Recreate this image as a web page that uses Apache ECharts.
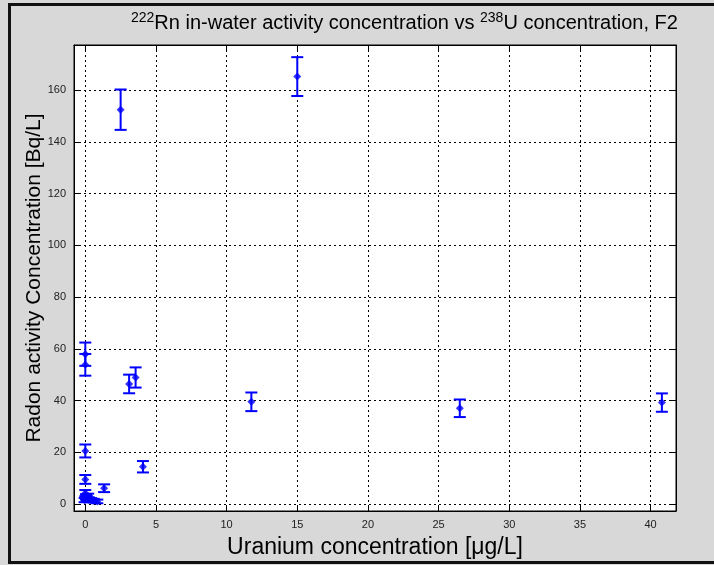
<!DOCTYPE html>
<html>
<head>
<meta charset="utf-8">
<script src="https://cdn.jsdelivr.net/npm/echarts@6/dist/echarts.min.js"></script>
<style>
html,body{margin:0;padding:0;background:#d8d8d8;}
#c{width:714px;height:565px;}
</style>
</head>
<body>
<div id="c"></div>
<script>
// Uranium concentration [µg/L]
var uranium = [0, 0, 3.1, 3.56, 0, 0, 1.33, 4.08, 2.5, 15.0, 11.75, 26.5, 40.8,
               0, 0.2, 0.05, 0.1, 0.25, -0.05, 0.4, 0.6, 0.85];
// Radon activity concentration [Bq/L]
var radon = [57.9, 53.8, 46.4, 48.9, 20.5, 9.5, 6.1, 14.4, 152.4, 165.2, 39.5, 37.0, 39.2,
             4.2, 3.0, 2.8, 2.2, 1.8, 1.5, 1.5, 1.3, 1.0];
// Uncertainty (±) [Bq/L]
var radonErr = [4.5, 4.2, 3.6, 3.9, 2.5, 1.7, 1.5, 2.2, 7.8, 7.5, 3.6, 3.4, 3.55,
                1.2, 1.0, 1.0, 0.9, 0.8, 0.8, 0.8, 0.7, 0.7];

var xTicks = [0, 5, 10, 15, 20, 25, 30, 35, 40];
var yTicks = [0, 20, 40, 60, 80, 100, 120, 140, 160];

var pts = uranium.map(function(u, i){ return [u, radon[i]]; });
var errData = uranium.map(function(u, i){ return [u, radon[i] - radonErr[i], radon[i] + radonErr[i]]; });

var blue = '#0000ff';
var font = '"Liberation Sans", Arial, sans-serif';
var narrow = '"Liberation Sans Narrow", "Liberation Sans", Arial, sans-serif';

var chart = echarts.init(document.getElementById('c'), null, {renderer: 'canvas'});

function baseAxis(extra){
  var a = {
    axisLine: {show: true, onZero: false, lineStyle: {color: '#000', width: 1}},
    axisTick: {show: true, inside: true, length: 5, lineStyle: {color: '#000'}},
    splitLine: {show: false},
    axisLabel: {show: false}
  };
  for (var k in extra) a[k] = extra[k];
  return a;
}

var option = {
  backgroundColor: '#d8d8d8',
  animation: false,
  title: {
    text: '{sup|222}Rn in-water activity concentration vs {sup|238}U concentration, F2',
    left: 126,
    top: 6,
    textStyle: {
      fontFamily: font, fontSize: 20, fontWeight: 'normal', color: '#000',
      rich: {
        sup: {fontFamily: font, fontSize: 14, verticalAlign: 'top', padding: [0, 0, 10, 0], color: '#000'}
      }
    }
  },
  grid: {left: 74, top: 45, width: 602, height: 466, show: true, backgroundColor: '#fff', borderColor: '#000', borderWidth: 1},
  xAxis: [
    baseAxis({
      type: 'value', min: -0.8, max: 41.8, splitNumber: 8,
      axisTick: {show: true, inside: true, length: 5, lineStyle: {color: '#000'}, customValues: xTicks},
      axisLabel: {show: true, customValues: xTicks, fontFamily: narrow, fontSize: 11, color: '#222', margin: 8},
      splitLine: {show: true, lineStyle: {color: '#000', type: [2, 3], width: 1}},
      name: 'Uranium concentration [\u03bcg/L]', nameLocation: 'middle', nameGap: 25,
      nameMoveOverlap: false,
      nameTextStyle: {fontFamily: font, fontSize: 23, color: '#000'}
    }),
    baseAxis({
      type: 'value', min: -0.8, max: 41.8, position: 'top',
      axisTick: {show: true, inside: true, length: 5, lineStyle: {color: '#000'}, customValues: xTicks}
    })
  ],
  yAxis: [
    baseAxis({
      type: 'value', min: -2.7, max: 177.4, splitNumber: 9,
      axisTick: {show: true, inside: true, length: 5, lineStyle: {color: '#000'}, customValues: yTicks},
      axisLabel: {show: true, customValues: yTicks, fontFamily: narrow, fontSize: 11, color: '#222', margin: 8},
      splitLine: {show: true, lineStyle: {color: '#000', type: [2, 3], width: 1}},
      name: 'Radon activity Concentration [Bq/L]', nameLocation: 'middle', nameGap: 29,
      nameMoveOverlap: false,
      nameTextStyle: {fontFamily: font, fontSize: 21, color: '#000'}
    }),
    baseAxis({
      type: 'value', min: -2.7, max: 177.4, position: 'right',
      axisTick: {show: true, inside: true, length: 5, lineStyle: {color: '#000'}, customValues: yTicks}
    })
  ],
  graphic: [{
    type: 'rect', silent: true, z: 100,
    shape: {x: 9.5, y: 4.5, width: 760, height: 558},
    style: {fill: 'none', stroke: '#111', lineWidth: 3}
  }],
  series: [
    {
      type: 'custom',
      xAxisIndex: 0, yAxisIndex: 0,
      data: errData,
      encode: {x: 0, y: [1, 2]},
      renderItem: function(params, api){
        var lo = api.coord([api.value(0), api.value(1)]);
        var hi = api.coord([api.value(0), api.value(2)]);
        var hw = 6;
        var st = {stroke: blue, lineWidth: 2, fill: 'none'};
        return {
          type: 'group',
          children: [
            {type: 'line', shape: {x1: lo[0], y1: lo[1], x2: hi[0], y2: hi[1]}, style: st},
            {type: 'line', shape: {x1: lo[0] - hw, y1: lo[1], x2: lo[0] + hw, y2: lo[1]}, style: st},
            {type: 'line', shape: {x1: hi[0] - hw, y1: hi[1], x2: hi[0] + hw, y2: hi[1]}, style: st}
          ]
        };
      },
      z: 3
    },
    {
      type: 'scatter',
      xAxisIndex: 0, yAxisIndex: 0,
      data: pts,
      symbol: 'diamond',
      symbolSize: 8,
      itemStyle: {color: blue},
      z: 4
    }
  ]
};
chart.setOption(option);
</script>
</body>
</html>
